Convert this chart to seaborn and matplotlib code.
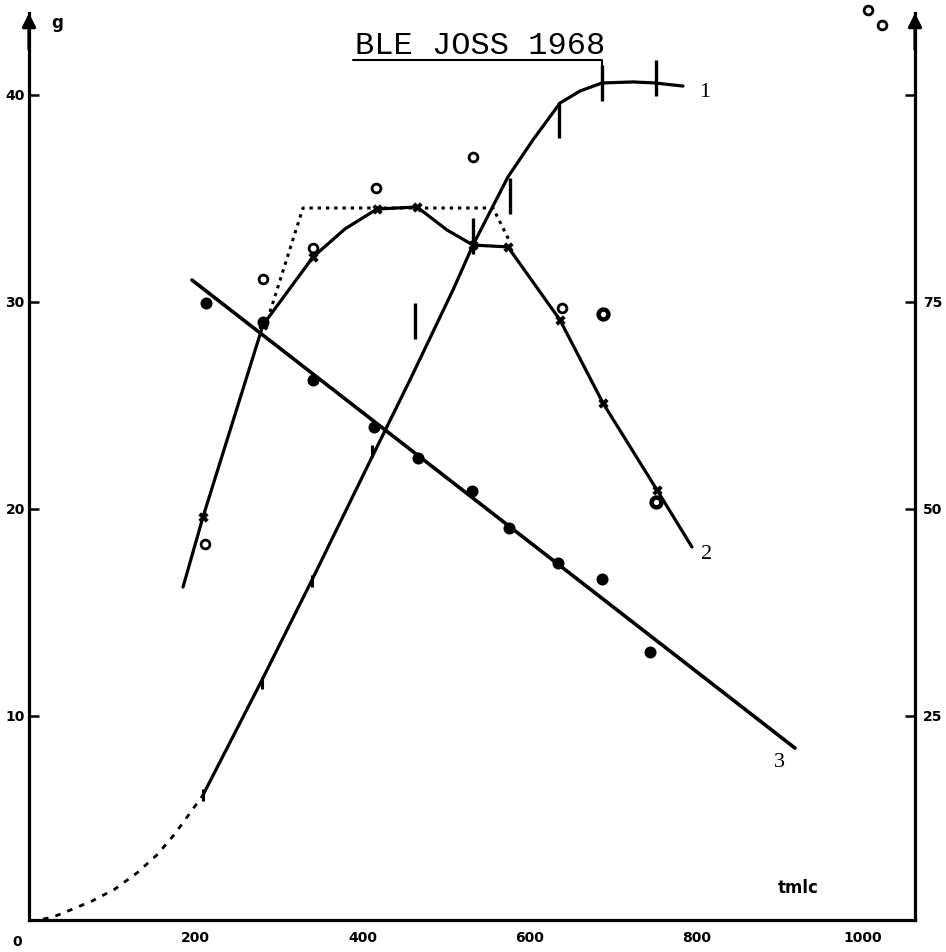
import numpy as np
import pandas as pd
import seaborn as sns
import matplotlib.pyplot as plt

# ---- data (time tmlc vs. g) ----
# curve 1: growth curve, dashed start then solid trace
c1_dash_t = [16.8, 28.8, 46.8, 75.5, 103.1, 129.5, 153.5, 172.7, 183.5, 208.6]
c1_dash_g = [0.19, 0.29, 0.58, 1.06, 1.64, 2.42, 3.29, 4.2, 4.78, 6.18]
c1_t = [208.6, 279.4, 339.3, 411.3, 456.8, 508.4, 532.4, 555.2, 574.3, 604.3,
        636.7, 660.7, 687.1, 724.2, 750.6, 784.2]
c1_g = [6.18, 11.74, 16.57, 22.51, 26.23, 30.58, 32.75, 34.54, 36.04, 37.83,
        39.61, 40.19, 40.58, 40.63, 40.58, 40.43]
# curve 1 observations (bar marks)
c1_obs_low_t = [208.6, 279.4, 339.3, 411.3]
c1_obs_low_g = [6.2, 11.6, 16.5, 22.8]
c1_obs_high_t = [462.8, 532.4, 576.7, 635.5, 687.1, 751.8]
c1_obs_high_g = [29.1, 33.2, 35.1, 38.8, 40.6, 40.8]

# curve 2: rise and fall
c2_t = [184.7, 208.6, 280.6, 340.5, 378.9, 417.3, 465.2, 501.2, 532.4, 574.3,
        636.7, 688.2, 753.0, 795.0]
c2_g = [16.23, 19.61, 28.89, 32.17, 33.53, 34.49, 34.59, 33.48, 32.75, 32.66,
        29.13, 25.12, 20.92, 18.16]
c2_mark_t = [208.6, 280.6, 340.5, 417.3, 465.2, 532.4, 574.3, 636.7, 688.2, 753.0]
c2_mark_g = [19.61, 28.89, 32.17, 34.49, 34.59, 32.75, 32.66, 29.13, 25.12, 20.92]
# curve 2 envelope (dotted)
c2_env_t = [289.0, 328.5, 556.4, 576.7]
c2_env_g = [29.52, 34.54, 34.54, 32.9]
# open circles
circ_t = [211.0, 280.6, 340.5, 416.1, 532.4, 639.1, 1006.0, 1023.0]
circ_g = [18.3, 31.1, 32.6, 35.5, 37.0, 29.7, 44.1, 43.4]
ring_t = [688.2, 751.8]
ring_g = [29.42, 20.34]

# curve 3: straight regression
c3_t = [195.4, 918.5]
c3_g = [31.06, 8.45]
dot_t = [212.2, 280.6, 340.5, 413.7, 466.4, 531.2, 575.5, 634.3, 687.1, 744.6]
dot_g = [29.95, 29.03, 26.23, 23.96, 22.46, 20.87, 19.08, 17.39, 16.62, 13.09]

x_major = [0, 200, 400, 600, 800, 1000]
x_minor = [100, 300, 500, 700, 900]
y_left = [10, 20, 30, 40]
y_right = [25, 50, 75, 100]
y_right_labels = ["25", "50", "75", ""]

title = "BLE JOSS 1968"
curve_labels = ["1", "2", "3"]
curve_label_pos_t = [809.6, 813.0, 900.0]
curve_label_pos_g = [40.1, 17.78, 7.75]

# ---- figure ----
sns.set_style("white")
plt.rcParams["font.family"] = ["DejaVu Sans"]

fig = plt.figure(figsize=(9.46, 9.52), dpi=100)
ax = fig.add_axes([29 / 946, 1 - 920 / 952, (915 - 29) / 946, (920 - 13) / 952])
ylim = (0.145, 43.96)
ax.set_xlim(0, 1062.4)
ax.set_ylim(*ylim)

K = "black"
LW = 2.3

# curve 1
sns.lineplot(x=c1_dash_t, y=c1_dash_g, sort=False, estimator=None, color=K,
             lw=2.0, linestyle=(0, (2.0, 2.6)), ax=ax)
sns.lineplot(x=c1_t, y=c1_g, sort=False, estimator=None, color=K, lw=LW, ax=ax)
sns.lineplot(x=c1_obs_low_t, y=c1_obs_low_g, sort=False, estimator=None, color=K,
             linestyle="none", marker="|", markersize=9, markeredgewidth=2.2,
             markeredgecolor=K, ax=ax)
sns.lineplot(x=c1_obs_high_t, y=c1_obs_high_g, sort=False, estimator=None, color=K,
             linestyle="none", marker="|", markersize=26, markeredgewidth=2.4,
             markeredgecolor=K, ax=ax)

# curve 2
sns.lineplot(x=c2_env_t, y=c2_env_g, sort=False, estimator=None, color=K,
             lw=2.2, linestyle=(0, (1.1, 1.6)), ax=ax)
sns.lineplot(x=c2_t, y=c2_g, sort=False, estimator=None, color=K, lw=LW, ax=ax)
sns.scatterplot(x=c2_mark_t, y=c2_mark_g, marker="X", s=45, color=K,
                edgecolor=K, linewidth=0.5, ax=ax, zorder=4)
sns.scatterplot(x=circ_t, y=circ_g, marker="o", s=40, color="white",
                edgecolor=K, linewidth=2.0, ax=ax, zorder=5, clip_on=False)
sns.scatterplot(x=ring_t, y=ring_g, marker="o", s=50, color="white",
                edgecolor=K, linewidth=3.2, ax=ax, zorder=5)

# curve 3
sns.lineplot(x=c3_t, y=c3_g, sort=False, estimator=None, color=K, lw=LW + 0.3, ax=ax)
sns.scatterplot(x=dot_t, y=dot_g, marker="o", s=75, color=K, edgecolor=K,
                linewidth=0, ax=ax, zorder=5)

# title with bracket to the plateau of curve 1
ax.text(390.9, 41.98, title, family="Liberation Mono", fontsize=23,
        ha="left", va="baseline", color=K)
ax.plot([388.5, 687.1, 687.1], [41.69, 41.69, 40.58], color=K, lw=1.5,
        clip_on=False)

for lab, tx, gy in zip(curve_labels, curve_label_pos_t, curve_label_pos_g):
    ax.text(tx, gy, lab, family="Liberation Serif", fontsize=16,
            ha="center", va="center", color=K)

ax.text(33.6, 43.5, "g", fontsize=12, fontweight="heavy", ha="center",
        va="center", color=K)
ax.text(922, 1.69, "tmlc", fontsize=12, fontweight="heavy", ha="center",
        va="center", color=K)

# axes
for side in ["top", "right"]:
    ax.spines[side].set_visible(False)
for side in ["left", "bottom"]:
    ax.spines[side].set_linewidth(2.3)
    ax.spines[side].set_color(K)

ax.set_xticks(x_major)
ax.set_xticklabels([""] + [str(v) for v in x_major[1:]])
ax.set_xticks(x_minor, minor=True)
ax.set_yticks(y_left)
ax.set_yticklabels([str(v) for v in y_left])
ax.tick_params(axis="x", which="both", direction="in", length=6, width=2.2,
               labelsize=10, pad=8, colors=K)
ax.tick_params(axis="y", direction="in", length=7, width=1.8, labelsize=10,
               pad=3, colors=K)
for lab in ax.get_xticklabels() + ax.get_yticklabels():
    lab.set_fontweight("heavy")
ax.text(-14, -0.9, "0", fontsize=10, fontweight="heavy", ha="center",
        va="center", color=K, clip_on=False)
ax.set_xlabel("")
ax.set_ylabel("")

ax2 = ax.twinx()
ax2.set_ylim(ylim[0] * 2.5, ylim[1] * 2.5)
for side in ["top", "left", "bottom"]:
    ax2.spines[side].set_visible(False)
ax2.spines["right"].set_linewidth(2.3)
ax2.spines["right"].set_color(K)
ax2.set_yticks(y_right)
ax2.set_yticklabels(y_right_labels)
ax2.tick_params(axis="y", direction="in", length=7, width=1.8, labelsize=10,
                pad=6, colors=K)
for lab in ax2.get_yticklabels():
    lab.set_fontweight("heavy")
ax2.grid(False)
ax.grid(False)

# arrow heads on both vertical axes
for xa in (0.0, 1.0):
    ax.annotate("", xy=(xa, 1.0), xytext=(xa, 0.96), xycoords="axes fraction",
                arrowprops=dict(arrowstyle="-|>", lw=2.3, color=K,
                                mutation_scale=20, shrinkA=0, shrinkB=0),
                annotation_clip=False)

fig.savefig("out.png", dpi=100, facecolor="white")
